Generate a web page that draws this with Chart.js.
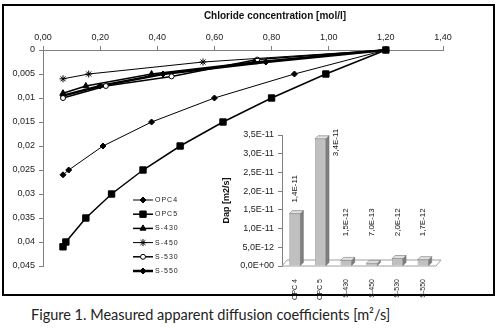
<!DOCTYPE html>
<html>
<head>
<meta charset="utf-8">
<script src="https://cdn.jsdelivr.net/npm/chart.js@4.4.0/dist/chart.umd.min.js"></script>
<style>
    body { margin: 0; background: #fff; width: 499px; height: 329px; position: relative; overflow: hidden; }
    #frame { position: absolute; left: 2px; top: 4px; width: 489px; height: 288px; border: 2px solid #000; }
    #mainChart { position: absolute; left: 0; top: 0; }
    #insetChart { position: absolute; left: 220px; top: 125px; }
    #title { position: absolute; left: 125px; top: 10px; width: 300px; text-align: center;
             font: bold 10px "Liberation Sans", Arial, sans-serif; line-height: 12px; color: #111; }
    #caption { position: absolute; left: 31px; top: 306px; font: 14.5px Lato, sans-serif; line-height: 17px; color: #222; }
</style>
</head>
<body>
<div id="frame"></div>
<canvas id="mainChart" width="499" height="300"></canvas>
<canvas id="insetChart" width="230" height="180"></canvas>
<div id="title">Chloride concentration [mol/l]</div>
<div id="caption">Figure 1. Measured apparent diffusion coefficients [m²/s]</div>

<script>
// chloride profiles (x = concentration mol/l, y = depth)
const opc4X = [0.07, 0.09, 0.21, 0.38, 0.60, 0.88, 1.20];
const opc4Y = [0.026, 0.025, 0.020, 0.015, 0.010, 0.005, 0];
const opc5X = [0.07, 0.08, 0.15, 0.24, 0.35, 0.48, 0.63, 0.80, 0.99, 1.20];
const opc5Y = [0.041, 0.040, 0.035, 0.030, 0.025, 0.020, 0.015, 0.010, 0.005, 0];
const s430X = [0.07, 0.15, 0.38, 0.74, 1.20];
const s430Y = [0.009, 0.0075, 0.005, 0.0025, 0];
const s450X = [0.07, 0.16, 0.56, 1.20];
const s450Y = [0.006, 0.005, 0.0025, 0];
const s530X = [0.07, 0.22, 0.45, 0.75, 1.20];
const s530Y = [0.010, 0.0075, 0.0055, 0.002, 0];
const s550X = [0.07, 0.20, 0.42, 0.78, 1.20];
const s550Y = [0.0095, 0.0075, 0.005, 0.0025, 0];

// inset bar chart
const dapLabels = ['OPC 4', 'OPC 5', 'S-430', 'S-450', 'S-530', 'S-550'];
const dapValues = [1.4e-11, 3.4e-11, 1.5e-12, 7.0e-13, 2.0e-12, 1.7e-12];

const tickFont = { family: '"Liberation Sans", Arial, sans-serif', size: 9 };
const tickColor = '#222';
const axisGray = '#808080';

function pts(xs, ys) {
    return xs.map((x, i) => ({ x: x, y: ys[i] }));
}

function sci(v) {
    const parts = v.toExponential(1).split('e');
    const sign = parts[1][0];
    const exp = parts[1].slice(1).padStart(2, '0');
    return parts[0].replace('.', ',') + 'E' + sign + exp;
}

// legend drawn inside the plot area
const seriesKey = {
    id: 'seriesKey',
    afterDraw(chart, args, opts) {
        const c = chart.ctx;
        chart.data.datasets.forEach((ds, i) => {
            const y = opts.top + i * opts.gap;
            c.save();
            c.strokeStyle = ds.borderColor;
            c.lineWidth = ds.borderWidth;
            c.beginPath();
            c.moveTo(opts.left, y);
            c.lineTo(opts.left + opts.lineLen, y);
            c.stroke();
            c.fillStyle = ds.pointBackgroundColor;
            c.strokeStyle = ds.pointBorderColor;
            c.lineWidth = 1;
            Chart.helpers.drawPoint(c, { pointStyle: ds.pointStyle, radius: ds.pointRadius, borderWidth: 1, rotation: 0 },
                opts.left + opts.lineLen / 2, y);
            c.fillStyle = '#222';
            c.font = '7px "Liberation Sans", Arial, sans-serif';
            c.letterSpacing = '1px';
            c.textBaseline = 'middle';
            c.fillText(ds.label, opts.left + opts.lineLen + 2, y);
            c.restore();
        });
    }
};

function line(label, xs, ys, style, radius, width, fill) {
    return {
        label: label,
        data: pts(xs, ys),
        showLine: true,
        borderColor: '#000',
        borderWidth: width,
        pointStyle: style,
        pointRadius: radius,
        pointBackgroundColor: fill || '#000',
        pointBorderColor: '#000',
        pointBorderWidth: 1,
        clip: false
    };
}

const mainCtx = document.getElementById('mainChart').getContext('2d');
new Chart(mainCtx, {
    type: 'scatter',
    data: {
        datasets: [
            line('OPC4', opc4X, opc4Y, 'rectRot', 3, 1),
            line('OPC5', opc5X, opc5Y, 'rect', 4.5, 1.5),
            line('S-430', s430X, s430Y, 'triangle', 3.5, 1.5),
            line('S-450', s450X, s450Y, 'star', 3.5, 1),
            line('S-530', s530X, s530Y, 'circle', 2.5, 1.5, '#fff'),
            line('S-550', s550X, s550Y, 'rectRot', 3, 2.5)
        ]
    },
    options: {
        responsive: false,
        animation: false,
        layout: { padding: { left: 0, top: 0, right: 56, bottom: 34 } },
        plugins: {
            legend: { display: false },
            tooltip: { enabled: false },
            seriesKey: { left: 133, top: 200, gap: 14.2, lineLen: 20 }
        },
        scales: {
            x: {
                type: 'linear',
                position: 'top',
                min: 0,
                max: 1.4,
                ticks: {
                    stepSize: 0.2,
                    font: tickFont,
                    color: tickColor,
                    padding: 3,
                    callback: v => v.toFixed(2).replace('.', ',')
                },
                grid: { drawOnChartArea: false, tickLength: 4, color: axisGray },
                border: { color: axisGray },
                afterFit: s => { s.height = 50; }
            },
            y: {
                type: 'linear',
                reverse: true,
                min: 0,
                max: 0.045,
                ticks: {
                    stepSize: 0.005,
                    font: tickFont,
                    color: tickColor,
                    padding: 4,
                    callback: v => String(+v.toFixed(4)).replace('.', ',')
                },
                grid: { drawOnChartArea: false, tickLength: 4, color: axisGray },
                border: { color: axisGray },
                afterFit: s => { s.width = 43; }
            }
        }
    },
    plugins: [seriesKey]
});

// fake 3D look for the inset bars
const bar3d = {
    id: 'bar3d',
    beforeDatasetsDraw(chart, args, o) {
        const c = chart.ctx;
        const a = chart.chartArea;
        c.save();
        c.strokeStyle = '#a0a0a0';
        c.lineWidth = 1;
        c.beginPath();
        c.moveTo(a.left, a.bottom);
        c.lineTo(a.right, a.bottom);
        c.lineTo(a.right + o.floorDx, a.bottom - o.floorDy);
        c.lineTo(a.left + o.floorDx, a.bottom - o.floorDy);
        c.closePath();
        c.stroke();
        c.restore();
    },
    afterDatasetsDraw(chart, args, o) {
        const c = chart.ctx;
        const meta = chart.getDatasetMeta(0);
        c.save();
        c.strokeStyle = '#606060';
        c.lineWidth = 0.5;
        meta.data.forEach(bar => {
            const p = bar.getProps(['x', 'y', 'base', 'width']);
            const l = p.x - p.width / 2;
            const r = p.x + p.width / 2;
            c.fillStyle = o.side;
            c.beginPath();
            c.moveTo(r, p.y);
            c.lineTo(r + o.dx, p.y - o.dy);
            c.lineTo(r + o.dx, p.base - o.dy);
            c.lineTo(r, p.base);
            c.closePath();
            c.fill();
            c.stroke();
            c.fillStyle = o.top;
            c.beginPath();
            c.moveTo(l, p.y);
            c.lineTo(l + o.dx, p.y - o.dy);
            c.lineTo(r + o.dx, p.y - o.dy);
            c.lineTo(r, p.y);
            c.closePath();
            c.fill();
            c.stroke();
        });
        c.restore();
    }
};

// rotated value labels above the bars
const valueLabels = {
    id: 'valueLabels',
    afterDraw(chart, args, o) {
        const c = chart.ctx;
        const ys = chart.scales.y;
        const meta = chart.getDatasetMeta(0);
        c.save();
        c.font = '8px "Liberation Sans", Arial, sans-serif';
        c.fillStyle = '#111';
        c.textBaseline = 'middle';
        c.textAlign = 'left';
        meta.data.forEach((bar, i) => {
            const v = chart.data.datasets[0].data[i];
            const txt = sci(v);
            const w = c.measureText(txt).width;
            let px = bar.x;
            let py = ys.getPixelForValue(Math.max(v, o.minAnchor)) - o.gap;
            if (py - w < chart.chartArea.top) {
                px = bar.x + bar.width / 2 + 10;
                py = bar.y - 10 + w;
            }
            c.save();
            c.translate(px, py);
            c.rotate(-Math.PI / 2);
            c.fillText(txt, 0, 0);
            c.restore();
        });
        c.restore();
    }
};

const insetCtx = document.getElementById('insetChart').getContext('2d');
new Chart(insetCtx, {
    type: 'bar',
    data: {
        labels: dapLabels,
        datasets: [{
            data: dapValues,
            backgroundColor: '#c0c0c0',
            borderColor: '#606060',
            borderWidth: 0.5,
            barPercentage: 0.43,
            categoryPercentage: 1
        }]
    },
    options: {
        responsive: false,
        animation: false,
        layout: { padding: { left: 0, top: 10, right: 14, bottom: 0 } },
        plugins: {
            legend: { display: false },
            tooltip: { enabled: false },
            bar3d: { dx: 3, dy: 3, floorDx: 5, floorDy: 6, side: '#808080', top: '#e0e0e0' },
            valueLabels: { minAnchor: 5e-12, gap: 11 }
        },
        scales: {
            x: {
                grid: { display: false },
                border: { display: false },
                ticks: { minRotation: 90, maxRotation: 90, padding: 5, font: { family: tickFont.family, size: 7 }, color: tickColor },
                afterFit: s => { s.height = 39; }
            },
            y: {
                min: 0,
                max: 3.5e-11,
                ticks: { stepSize: 5e-12, font: tickFont, color: tickColor, padding: 4, callback: v => sci(v) },
                grid: { drawOnChartArea: false, tickLength: 4, color: axisGray },
                border: { color: axisGray },
                title: { display: true, text: 'Dap [m2/s]', color: '#111', padding: { top: 1, bottom: 0 },
                         font: { family: tickFont.family, size: 9, weight: 'bold' } },
                afterFit: s => { s.width = 62; }
            }
        }
    },
    plugins: [bar3d, valueLabels]
});
</script>
</body>
</html>
